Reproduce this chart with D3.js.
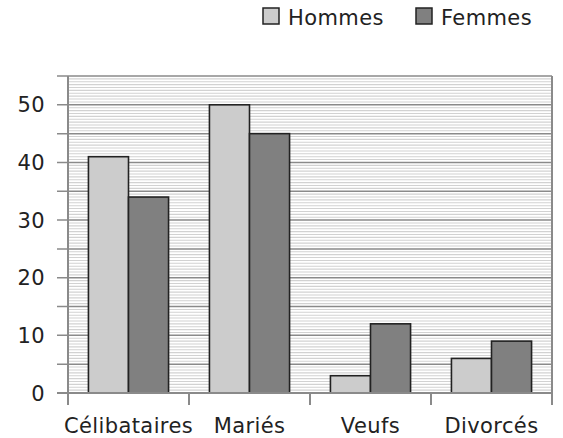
<!DOCTYPE html>
<html>
<head>
<meta charset="utf-8">
<script src="https://cdn.jsdelivr.net/npm/d3@7"></script>
<style>
  body { margin: 0; background: #fff; }
  text { font-family: "DejaVu Sans", sans-serif; fill: #222; letter-spacing: 0.4px; }
</style>
</head>
<body>
<svg id="drawing_region"></svg>
<script>
const categories = ['Célibataires', 'Mariés', 'Veufs', 'Divorcés'];
const series = ['Hommes', 'Femmes'];
const hommes = [41, 50, 3, 6];
const femmes = [34, 45, 12, 9];
const colors = ['#cccccc', '#808080'];
const yLabelTicks = [0, 10, 20, 30, 40, 50];

const data = categories.map((c, i) => ({ cat: c, values: [hommes[i], femmes[i]] }));

const width = 563, height = 438;
const margin = { top: 76, right: 11, bottom: 45, left: 68 };

const svg = d3.select('#drawing_region')
    .attr('width', width)
    .attr('height', height);

const x0 = d3.scaleBand()
    .domain(categories)
    .range([margin.left, width - margin.right])
    .padding(0);

const x1 = d3.scaleBand()
    .domain(series)
    .range([0, x0.bandwidth()])
    .paddingInner(0)
    .paddingOuter(0.51);

const y = d3.scaleLinear()
    .domain([0, 55])
    .range([height - margin.bottom, margin.top]);

// minor grid (every half unit)
svg.append('g')
    .selectAll('line')
    .data(d3.range(1, 110).map(v => v / 2).filter(v => v % 5 !== 0))
    .join('line')
    .attr('x1', margin.left)
    .attr('x2', width - margin.right)
    .attr('y1', d => y(d))
    .attr('y2', d => y(d))
    .attr('stroke', '#d2d2d2')
    .attr('stroke-width', 1.1);

// major grid + ticks every 5
svg.append('g')
    .selectAll('line')
    .data(d3.range(5, 56, 5))
    .join('line')
    .attr('x1', margin.left - 11)
    .attr('x2', width - margin.right)
    .attr('y1', d => y(d))
    .attr('y2', d => y(d))
    .attr('stroke', '#8a8a8a')
    .attr('stroke-width', 1.5);

// bars
const groups = svg.append('g')
    .selectAll('g')
    .data(data)
    .join('g')
    .attr('transform', d => `translate(${x0(d.cat)},0)`);

groups.selectAll('rect')
    .data(d => d.values.map((v, i) => ({ key: series[i], value: v, idx: i })))
    .join('rect')
    .attr('x', d => x1(d.key))
    .attr('y', d => y(d.value))
    .attr('width', x1.bandwidth())
    .attr('height', d => y(0) - y(d.value))
    .attr('fill', d => colors[d.idx])
    .attr('stroke', '#222')
    .attr('stroke-width', 1.6);

// frame: left, right, bottom
const frame = svg.append('g').attr('stroke', '#8a8a8a').attr('stroke-width', 2);
frame.append('line')
    .attr('x1', margin.left).attr('x2', margin.left)
    .attr('y1', y(55)).attr('y2', y(0) + 12);
frame.append('line')
    .attr('x1', width - margin.right).attr('x2', width - margin.right)
    .attr('y1', y(55)).attr('y2', y(0) + 12);
frame.append('line')
    .attr('x1', margin.left - 11).attr('x2', width - margin.right)
    .attr('y1', y(0)).attr('y2', y(0));

// x category separators
frame.selectAll('.xt')
    .data(categories.slice(1))
    .join('line')
    .attr('x1', d => x0(d)).attr('x2', d => x0(d))
    .attr('y1', y(0)).attr('y2', y(0) + 12);

// y labels
svg.append('g')
    .selectAll('text')
    .data(yLabelTicks)
    .join('text')
    .attr('x', margin.left - 23)
    .attr('y', d => y(d))
    .attr('dy', '0.36em')
    .attr('text-anchor', 'end')
    .style('font-size', '21px')
    .text(d => d);

// x labels
svg.append('g')
    .selectAll('text')
    .data(categories)
    .join('text')
    .attr('x', d => x0(d) + x0.bandwidth() / 2)
    .attr('y', 433)
    .attr('text-anchor', 'middle')
    .style('font-size', '21px')
    .text(d => d);

// legend
const legendX = [263, 416];
const legend = svg.append('g')
    .selectAll('g')
    .data(series)
    .join('g')
    .attr('transform', (d, i) => `translate(${legendX[i]},8)`);

legend.append('rect')
    .attr('width', 16)
    .attr('height', 16)
    .attr('fill', (d, i) => colors[i])
    .attr('stroke', '#222')
    .attr('stroke-width', 1.5);

legend.append('text')
    .attr('x', 25)
    .attr('y', 17)
    .attr('dy', '0.02em')
    .style('font-size', '21px')
    .text(d => d);
</script>
</body>
</html>
